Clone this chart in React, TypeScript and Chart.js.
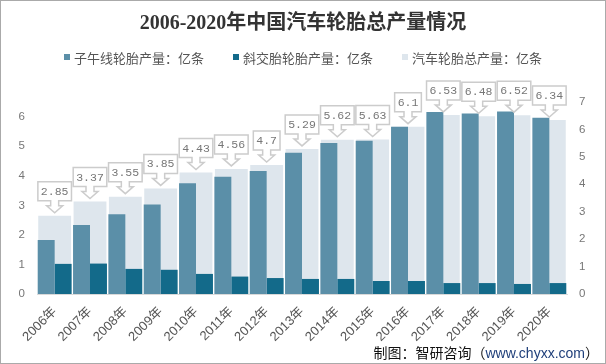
import React, { useEffect, useRef } from "react";
import { Chart, registerables } from "chart.js";

Chart.register(...registerables);

const categories = ["2006年", "2007年", "2008年", "2009年", "2010年", "2011年", "2012年", "2013年", "2014年", "2015年", "2016年", "2017年", "2018年", "2019年", "2020年"];
const radialValues = [1.83, 2.34, 2.7, 3.03, 3.75, 3.97, 4.16, 4.78, 5.11, 5.19, 5.66, 6.16, 6.11, 6.18, 5.97];
const biasValues = [1.02, 1.03, 0.85, 0.82, 0.68, 0.59, 0.54, 0.51, 0.51, 0.44, 0.44, 0.37, 0.37, 0.34, 0.37];
const totalValues = [2.85, 3.37, 3.55, 3.85, 4.43, 4.56, 4.7, 5.29, 5.62, 5.63, 6.1, 6.53, 6.48, 6.52, 6.34];
const seriesNames = ["子午线轮胎产量：亿条", "斜交胎轮胎产量：亿条", "汽车轮胎总产量：亿条"];
const seriesColors = ["#5b8fa8", "#136a8a", "#dee6ed"];
const titleText = "2006-2020年中国汽车轮胎总产量情况";
const sourcePrefix = "制图：智研咨询（";
const sourceUrl = "www.chyxx.com";
const sourceSuffix = "）";

const calloutPlugin = {
  id: "callouts",
  afterDatasetsDraw(chart: any) {
    const meta = chart.getDatasetMeta(2);
    const ctx = chart.ctx;
    ctx.save();
    ctx.font = "11.5px 'Liberation Mono', 'DejaVu Sans Mono', monospace";
    meta.data.forEach((el: any, i: number) => {
      const text = String(totalValues[i]);
      const tw = ctx.measureText(text).width;
      const w = tw + 6;
      const h = 19;
      const cx = el.x;
      const tipY = el.y - 3;
      const neckH = 5;
      const headH = 7;
      const neckHalf = 4;
      const headHalf = 8;
      const boxBottom = tipY - neckH - headH;
      const boxTop = boxBottom - h;
      const left = cx - w / 2;
      const right = cx + w / 2;
      ctx.beginPath();
      ctx.moveTo(left, boxTop);
      ctx.lineTo(right, boxTop);
      ctx.lineTo(right, boxBottom);
      ctx.lineTo(cx + neckHalf, boxBottom);
      ctx.lineTo(cx + neckHalf, boxBottom + neckH);
      ctx.lineTo(cx + headHalf, boxBottom + neckH);
      ctx.lineTo(cx, tipY);
      ctx.lineTo(cx - headHalf, boxBottom + neckH);
      ctx.lineTo(cx - neckHalf, boxBottom + neckH);
      ctx.lineTo(cx - neckHalf, boxBottom);
      ctx.lineTo(left, boxBottom);
      ctx.closePath();
      ctx.fillStyle = "#ffffff";
      ctx.fill();
      ctx.lineWidth = 1.5;
      ctx.strokeStyle = "#cccccc";
      ctx.stroke();
      ctx.fillStyle = "#777777";
      ctx.textAlign = "center";
      ctx.textBaseline = "middle";
      ctx.fillText(text, cx, boxTop + h / 2 + 0.5);
    });
    ctx.restore();
  },
};

export default function App() {
  const canvasRef = useRef<HTMLCanvasElement | null>(null);

  useEffect(() => {
    if (!canvasRef.current) return;
    const chart = new Chart(canvasRef.current, {
      type: "bar",
      data: {
        labels: categories,
        datasets: [
          {
            label: seriesNames[0],
            data: radialValues,
            backgroundColor: seriesColors[0],
            yAxisID: "y",
            order: 1,
            categoryPercentage: 0.96,
            barPercentage: 1,
          },
          {
            label: seriesNames[1],
            data: biasValues,
            backgroundColor: seriesColors[1],
            yAxisID: "y",
            order: 1,
            categoryPercentage: 0.96,
            barPercentage: 1,
          },
          {
            label: seriesNames[2],
            data: totalValues,
            backgroundColor: seriesColors[2],
            yAxisID: "y1",
            order: 2,
            grouped: false,
            categoryPercentage: 0.93,
            barPercentage: 1,
          },
        ],
      },
      options: {
        animation: false,
        responsive: false,
        maintainAspectRatio: false,
        layout: { padding: { top: 102, left: 0, right: 0, bottom: 0 } },
        plugins: {
          legend: { display: false },
          title: { display: false },
          tooltip: { enabled: false },
        },
        scales: {
          x: {
            type: "category",
            offset: true,
            grid: { display: false, drawTicks: false },
            border: { display: true, color: "#d9d9d9", width: 1 },
            ticks: {
              minRotation: 45,
              maxRotation: 45,
              padding: 10,
              color: "#555555",
              font: { family: "'Liberation Sans', 'Noto Sans CJK SC', sans-serif", size: 13 },
            },
            afterFit(scale: any) {
              scale.height = 70;
            },
          },
          y: {
            position: "left",
            min: 0,
            max: 6.5,
            grid: { display: false, drawTicks: false },
            border: { display: false },
            ticks: {
              stepSize: 1,
              includeBounds: false,
              padding: 12,
              color: "#777777",
              font: { family: "'Liberation Sans', sans-serif", size: 11.5 },
              callback: (v: any) => (Number.isInteger(v) ? String(v) : ""),
            },
            afterFit(scale: any) {
              scale.width = 37;
            },
          },
          y1: {
            position: "right",
            min: 0,
            max: 7,
            grid: { display: false, drawTicks: false },
            border: { display: false },
            ticks: {
              stepSize: 1,
              padding: 12,
              color: "#777777",
              font: { family: "'Liberation Sans', sans-serif", size: 11.5 },
            },
            afterFit(scale: any) {
              scale.width = 39;
            },
          },
        },
      } as any,
      plugins: [calloutPlugin],
    });
    return () => chart.destroy();
  }, []);

  const legendItem = (i: number) => (
    <div key={i} style={{ display: "flex", alignItems: "center", marginRight: i < 2 ? 29 : 0 }}>
      <div style={{ width: 6, height: 6, background: seriesColors[i], marginRight: 4 }} />
      <span>{seriesNames[i]}</span>
    </div>
  );

  return (
    <div style={{ position: "fixed", left: 0, top: 0, width: 606, height: 364, background: "#ffffff", overflow: "hidden" }}>
      <canvas ref={canvasRef} width={606} height={364} style={{ position: "absolute", left: 0, top: 0, width: 606, height: 364 }} />
      <div
        style={{
          position: "absolute",
          left: 0,
          top: 9,
          width: 606,
          textAlign: "center",
          fontFamily: "'Liberation Serif', 'Noto Sans CJK SC', serif",
          fontWeight: "bold",
          fontSize: 20,
          lineHeight: "26px",
          color: "#333333",
        }}
      >
        {titleText}
      </div>
      <div
        style={{
          position: "absolute",
          left: 0,
          top: 48,
          width: 606,
          height: 18,
          display: "flex",
          justifyContent: "center",
          alignItems: "center",
          fontFamily: "'Noto Sans CJK SC', sans-serif",
          fontSize: 13,
          color: "#555555",
        }}
      >
        {[0, 1, 2].map(legendItem)}
      </div>
      <div
        style={{
          position: "absolute",
          right: 7,
          top: 343,
          fontFamily: "'Noto Sans CJK SC', sans-serif",
          fontSize: 14,
          lineHeight: "18px",
          color: "#111111",
          whiteSpace: "nowrap",
        }}
      >
        {sourcePrefix}
        <span style={{ color: "#1f3f7a", fontFamily: "'Liberation Sans', sans-serif" }}>{sourceUrl}</span>
        {sourceSuffix}
      </div>
      <div
        style={{
          position: "absolute",
          left: 0,
          top: 0,
          width: 606,
          height: 364,
          boxSizing: "border-box",
          border: "1px solid #aaaaaa",
          pointerEvents: "none",
        }}
      />
    </div>
  );
}
